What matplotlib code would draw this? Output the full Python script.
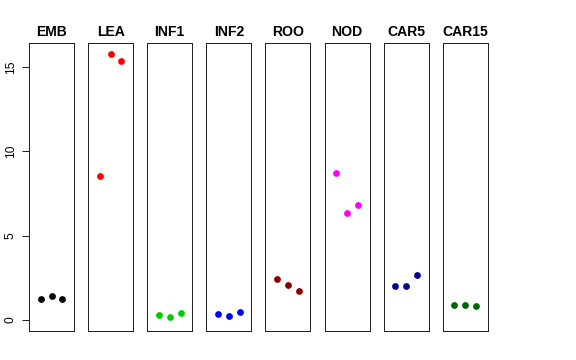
import numpy as np
import matplotlib
matplotlib.use("Agg")
import matplotlib.pyplot as plt

plt.rcParams['font.family'] = ['Liberation Sans', 'DejaVu Sans']

# tissue groups, 3 replicates each
groups = ["EMB", "LEA", "INF1", "INF2", "ROO", "NOD", "CAR5", "CAR15"]
values = [
    [1.26, 1.42, 1.25],    # EMB
    [8.52, 15.79, 15.33],  # LEA
    [0.32, 0.20, 0.39],    # INF1
    [0.38, 0.22, 0.47],    # INF2
    [2.45, 2.10, 1.74],    # ROO
    [8.71, 6.36, 6.79],    # NOD
    [2.00, 2.00, 2.69],    # CAR5
    [0.89, 0.87, 0.83],    # CAR15
]
colors = ["black", "#FF0000", "#00CD00", "#0000FF",
          "#8B0000", "#FF00FF", "#00008B", "#006400"]
yticks = [0, 5, 10, 15]

fig = plt.figure(figsize=(8, 5), dpi=72)

W, H = 576.0, 360.0
left0, width, step = 29.0, 45.0, 59.1
top, bottom = 43.3, 331.0

for i, (name, vals, col) in enumerate(zip(groups, values, colors)):
    x0 = left0 + i * step
    ax = fig.add_axes([x0 / W, 1 - bottom / H, width / W, (bottom - top) / H])
    ax.scatter([1, 2, 3], vals, s=46, color=col, zorder=3, linewidths=0)
    ax.set_xlim(-0.08, 4.08)
    ax.set_ylim(-0.65, 16.4)
    ax.set_xticks([])
    for sp in ax.spines.values():
        sp.set_color("#222222")
        sp.set_linewidth(1.0)
    ax.set_title(name, fontsize=14, fontweight="bold", pad=7)
    if i == 0:
        ax.set_yticks(yticks)
        ax.set_yticklabels([str(t) for t in yticks], rotation=90, va="center", fontsize=12)
        ax.tick_params(axis="y", length=7, width=1, pad=5, color="#222222")
    else:
        ax.set_yticks([])

fig.savefig("out.png", dpi=72)
